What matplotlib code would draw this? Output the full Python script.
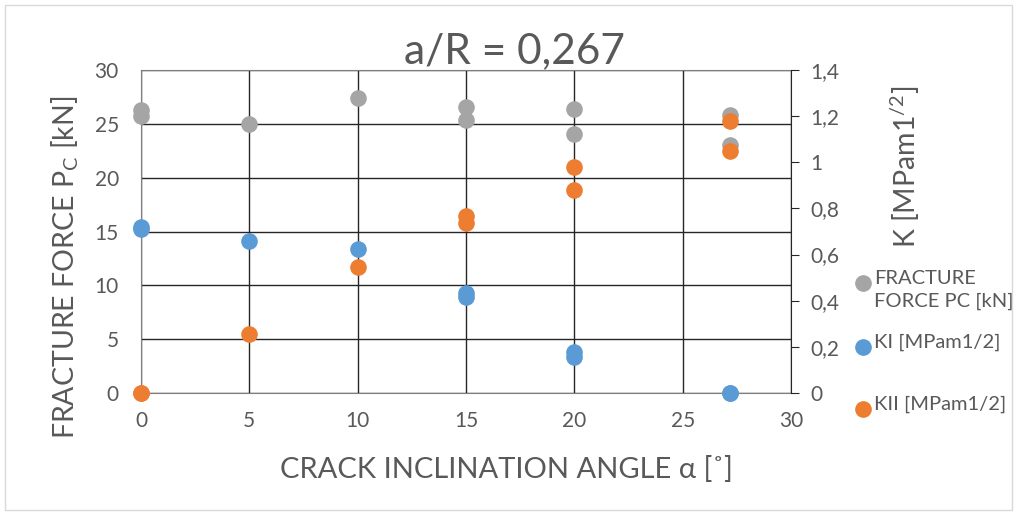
import matplotlib.pyplot as plt
from matplotlib.lines import Line2D
from matplotlib.patches import Rectangle

plt.rcParams['font.family'] = ['Lato', 'DejaVu Sans']

# crack inclination angle [deg]
angle_pc = [0, 0, 5, 10, 15, 15, 20, 20, 27.2, 27.2]
force_pc = [26.3, 25.7, 25.0, 27.4, 26.6, 25.4, 26.4, 24.1, 25.8, 23.0]

angle_k = [0, 0, 5, 10, 15, 15, 20, 20, 27.2, 27.2]
k1 = [0.72, 0.71, 0.66, 0.625, 0.432, 0.415, 0.179, 0.155, 0.0, 0.0]
k2 = [0.0, 0.0, 0.256, 0.547, 0.767, 0.735, 0.978, 0.880, 1.179, 1.050]

legend_labels = ['FRACTURE\nFORCE PC [kN]', 'KI [MPam1/2]', 'KII [MPam1/2]']

grey = '#A5A5A5'
blue = '#5B9BD5'
orange = '#ED7D31'
txt = '#595959'

W, H = 1017, 515
fig = plt.figure(figsize=(W / 100, H / 100), dpi=100)
fig.patches.append(Rectangle((0.005, 0.01), 0.99, 0.98, transform=fig.transFigure,
                             fill=False, edgecolor='#D9D9D9', lw=1))
ax = fig.add_axes([141 / W, 1 - 393 / H, 650 / W, 323 / H])
ax2 = ax.twinx()

ax.set_xlim(0, 30)
ax.set_ylim(0, 30)
ax2.set_ylim(0, 1.4)
ax.set_xticks(range(0, 31, 5))
ax.set_yticks(range(0, 31, 5))
ax2.set_yticks([0, 0.2, 0.4, 0.6, 0.8, 1, 1.2, 1.4])
ax2.set_yticklabels(['0', '0,2', '0,4', '0,6', '0,8', '1', '1,2', '1,4'])

ax.grid(True, color='#262626', lw=1)
ax.set_axisbelow(True)
for s in ['left', 'bottom', 'top']:
    ax.spines[s].set_color('#7F7F7F')
ax.spines['right'].set_visible(False)
ax2.spines['right'].set_color('#262626')
for s in ['left', 'bottom', 'top']:
    ax2.spines[s].set_visible(False)

ax.tick_params(axis='y', length=0, labelsize=15, labelcolor=txt, pad=16)
ax.tick_params(axis='x', length=0, labelsize=15, labelcolor=txt, pad=13)
ax2.tick_params(axis='y', length=6, direction='out', color='#262626',
                labelsize=15, labelcolor=txt, pad=8)

ax.scatter(angle_pc, force_pc, s=120, color=grey, clip_on=False, zorder=3)
ax2.scatter(angle_k, k1, s=120, color=blue, clip_on=False, zorder=3)
ax2.scatter(angle_k, k2, s=120, color=orange, clip_on=False, zorder=3)

ax.set_title('a/R = 0,267', fontsize=30.5, color=txt, pad=3, x=0.575)
ax.set_xlabel('CRACK INCLINATION ANGLE α [˚]', fontsize=21, color=txt)
ax.xaxis.set_label_coords(0.5615, -0.195)
ax.set_ylabel('FRACTURE FORCE P$_\\mathregular{C}$ [kN]', fontsize=20.5, color=txt, labelpad=10)
ax.yaxis.label.set_y(0.39)
ax2.set_ylabel('K [MPam1$^\\mathregular{/2}$]', fontsize=20.5, color=txt)
ax2.yaxis.set_label_coords(1.15, 0.70)

# legend, drawn by hand to match the uneven spacing of the original
leg_y = [283, 347, 409]
for lab, c, y in zip(legend_labels, (grey, blue, orange), leg_y):
    fig.add_artist(Line2D([863 / W], [1 - y / H], ls='', marker='o', ms=11,
                          color=c, transform=fig.transFigure))
    fig.text(874 / W, 1 - y / H + 0.026, lab, fontsize=14.5, color=txt,
             va='top', ha='left', linespacing=1.4)

fig.savefig('out.png', dpi=100)
